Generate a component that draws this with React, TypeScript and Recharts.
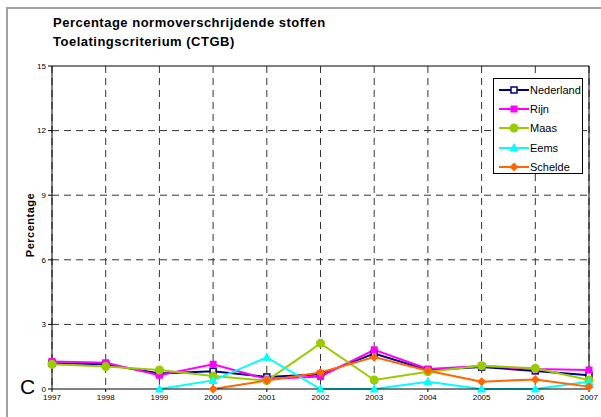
import React from 'react';
import { LineChart, Line, XAxis, YAxis, CartesianGrid, ReferenceLine } from 'recharts';

const years = ['1997', '1998', '1999', '2000', '2001', '2002', '2003', '2004', '2005', '2006', '2007'];
const nederland = [1.2, 1.15, 0.72, 0.82, 0.56, 0.68, 1.65, 0.88, 1.02, 0.84, 0.64];
const rijn = [1.28, 1.22, 0.64, 1.15, 0.46, 0.58, 1.82, 0.93, 1.07, 0.93, 0.88];
const maas = [1.15, 1.04, 0.88, 0.6, 0.39, 2.12, 0.42, 0.8, 1.08, 0.96, 0.42];
const eems = [null, null, 0, 0.4, 1.47, 0, 0, 0.34, 0, 0, 0.34];
const schelde = [null, null, null, 0, 0.39, 0.77, 1.48, 0.85, 0.34, 0.44, 0.11];
const yTicks = [0, 3, 6, 9, 12, 15];

const data = years.map((year, i) => ({
    year,
    Nederland: nederland[i],
    Rijn: rijn[i],
    Maas: maas[i],
    Eems: eems[i],
    Schelde: schelde[i],
}));

const series = [
    { key: 'Nederland', color: '#000080', shape: 'openSquare' },
    { key: 'Rijn', color: '#FF00FF', shape: 'square' },
    { key: 'Maas', color: '#99CC00', shape: 'circle' },
    { key: 'Eems', color: '#00FFFF', shape: 'triangle' },
    { key: 'Schelde', color: '#FF6600', shape: 'diamond' },
];

function Marker({ cx, cy, shape, color }: { cx: number; cy: number; shape: string; color: string }) {
    if (cx == null || cy == null) return null;
    switch (shape) {
        case 'openSquare':
            return <rect x={cx - 3} y={cy - 3} width={6} height={6} fill="#fff" stroke={color} strokeWidth={1.5} />;
        case 'square':
            return <rect x={cx - 3.5} y={cy - 3.5} width={7} height={7} fill={color} />;
        case 'circle':
            return <circle cx={cx} cy={cy} r={4.5} fill={color} />;
        case 'triangle':
            return <polygon points={`${cx},${cy - 5} ${cx + 4.5},${cy + 3.5} ${cx - 4.5},${cy + 3.5}`} fill={color} />;
        default:
            return <polygon points={`${cx},${cy - 4.5} ${cx + 4.5},${cy} ${cx},${cy + 4.5} ${cx - 4.5},${cy}`} fill={color} />;
    }
}

function LegendBox() {
    return (
        <div style={{ position: 'absolute', left: 493, top: 78, border: '1px solid #000', background: '#fff', width: 90, height: 96, boxSizing: 'border-box', padding: '1px 0 0 5px', fontFamily: 'Liberation Sans, Arial, sans-serif', fontSize: 11 }}>
            {series.map((s) => (
                <div key={s.key} style={{ display: 'flex', alignItems: 'center', height: 19.4 }}>
                    <svg width={30} height={12}>
                        <line x1={0} y1={6} x2={30} y2={6} stroke={s.color} strokeWidth={2} />
                        <Marker cx={15} cy={6} shape={s.shape} color={s.color} />
                    </svg>
                    <span style={{ marginLeft: 1 }}>{s.key}</span>
                </div>
            ))}
        </div>
    );
}

export default function App() {
    const font = 'Liberation Sans, Arial, sans-serif';
    return (
        <div style={{ position: 'absolute', left: 0, top: 0, width: 601, height: 417, background: '#fff', overflow: 'hidden' }}>
            <div style={{ position: 'absolute', left: 6, top: 7, right: -5, bottom: -5, borderLeft: '2px solid #a0a0a0', borderTop: '2px solid #a0a0a0' }} />
            <div style={{ position: 'absolute', left: 53, top: 13, fontFamily: font, fontSize: 13, fontWeight: 'bold', lineHeight: '19px', letterSpacing: 0.5, color: '#000' }}>
                Percentage normoverschrijdende stoffen<br />Toelatingscriterium (CTGB)
            </div>
            <div style={{ position: 'absolute', left: 30, top: 225, transform: 'translate(-50%, -50%) rotate(-90deg)', fontFamily: font, fontSize: 11, fontWeight: 'bold', letterSpacing: 0.5, whiteSpace: 'nowrap' }}>
                Percentage
            </div>
            <div style={{ position: 'absolute', left: 20, top: 374, fontFamily: font, fontSize: 21, lineHeight: '26px' }}>C</div>
            <LineChart width={601} height={417} data={data} margin={{ top: 66, right: 12, left: 32, bottom: 0 }} style={{ position: 'absolute', left: 0, top: 0 }}>
                <CartesianGrid stroke="#333" strokeDasharray="7 5" horizontalValues={[3, 6, 9, 12]} />
                <XAxis dataKey="year" height={28} tickLine={{ stroke: '#000' }} tickSize={3} axisLine={{ stroke: '#000' }} tick={{ fill: '#000', fontSize: 8, fontFamily: font }} interval={0} />
                <YAxis domain={[0, 15]} ticks={yTicks} width={20} tickSize={4} axisLine={{ stroke: '#000' }} tickLine={{ stroke: '#000' }} tick={{ fill: '#000', fontSize: 8, fontFamily: font }} />
                <ReferenceLine y={15} stroke="#000" />
                <ReferenceLine x="2007" stroke="#000" />
                {series.map((s) => (
                    <Line
                        key={s.key}
                        dataKey={s.key}
                        stroke={s.color}
                        strokeWidth={2}
                        type="linear"
                        isAnimationActive={false}
                        dot={(p: any) => <Marker key={`${s.key}-${p.index}`} cx={p.cx} cy={p.cy} shape={s.shape} color={s.color} />}
                        activeDot={false}
                    />
                ))}
            </LineChart>
            <LegendBox />
        </div>
    );
}
